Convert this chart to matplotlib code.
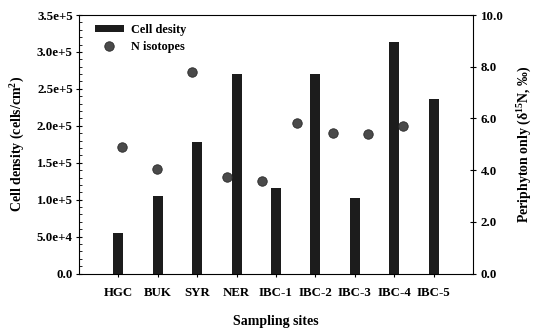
import matplotlib
matplotlib.use("Agg")
import matplotlib.pyplot as plt
from matplotlib.ticker import MultipleLocator
from matplotlib.lines import Line2D
from matplotlib.patches import Patch

plt.rcParams['font.family'] = ['Liberation Serif', 'DejaVu Serif']
plt.rcParams['font.weight'] = 'bold'
plt.rcParams['mathtext.fontset'] = 'custom'
plt.rcParams['mathtext.rm'] = 'Liberation Serif:bold'
plt.rcParams['mathtext.it'] = 'Liberation Serif:bold'
plt.rcParams['mathtext.bf'] = 'Liberation Serif:bold'

sites = ["HGC", "BUK", "SYR", "NER", "IBC-1", "IBC-2", "IBC-3", "IBC-4", "IBC-5"]
cell_density = [55000, 105000, 178000, 270000, 115500, 270000, 102000, 314000, 236500]
n_isotopes = [4.91, 4.04, 7.81, 3.72, 3.59, 5.82, 5.45, 5.39, 5.72]
left_ticks = [0, 5e4, 1e5, 1.5e5, 2e5, 2.5e5, 3e5, 3.5e5]
left_labels = ["0.0", "5.0e+4", "1.0e+5", "1.5e+5", "2.0e+5", "2.5e+5", "3.0e+5", "3.5e+5"]
right_ticks = [0, 2, 4, 6, 8, 10]
right_labels = ["0.0", "2.0", "4.0", "6.0", "8.0", "10.0"]

TF = 9.3
fig = plt.figure(figsize=(5.41, 3.32), dpi=100)
pos = [79/541, 1-273.6/332, (473-79)/541, (273.6-15)/332]
ax = fig.add_axes(pos)
xb = list(range(len(sites)))
ax.bar(xb, cell_density, width=0.25, color='#1c1c1c', zorder=2)
ax.set_xlim(-1, 9)
ax.set_ylim(0, 3.5e5)
ax.set_xticks(xb)
ax.set_xticklabels(sites, fontsize=TF, fontweight='bold')
ax.yaxis.set_minor_locator(MultipleLocator(1e4))
ax.set_yticks(left_ticks)
ax.set_yticklabels(left_labels, fontsize=TF, fontweight='bold')
ax.tick_params(axis='y', which='major', direction='inout', length=5, width=0.8, pad=2)
ax.tick_params(axis='y', which='minor', direction='in', length=2.5, width=0.6)
ax.tick_params(axis='x', which='major', direction='inout', length=5, width=0.8, pad=7)
ax.set_ylabel("Cell density (cells/cm$^\\mathbf{2}$)", fontsize=10, fontweight='bold', labelpad=7)
ax.set_xlabel("Sampling sites", fontsize=10, fontweight='bold', labelpad=12)
for s in ax.spines.values():
    s.set_linewidth(0.8)
ax.spines['right'].set_visible(False)

ax2 = fig.add_axes(pos, facecolor='none')
xp = list(range(1, len(sites)+1))
ax2.plot(xp, n_isotopes, 'o', color='#4a4a4a', markeredgecolor='#2a2a2a', markersize=6.8, markeredgewidth=0.6, zorder=3)
ax2.set_xlim(-0.21, 10.99)
ax2.set_ylim(0, 10)
ax2.set_xticks([])
ax2.yaxis.tick_right()
ax2.yaxis.set_label_position('right')
ax2.set_yticks(right_ticks)
ax2.set_yticklabels(right_labels, fontsize=TF, fontweight='bold')
ax2.tick_params(axis='y', direction='inout', length=5, width=0.8, pad=3)
ax2.set_ylabel("Periphyton only ($\\mathbf{\\delta^{15}}$N, \u2030)", fontsize=10, fontweight='bold', labelpad=9)
for k, s in ax2.spines.items():
    s.set_visible(k == 'right')
    s.set_linewidth(0.8)

handles = [Patch(facecolor='#1c1c1c', edgecolor='none'),
           Line2D([], [], marker='o', linestyle='none', color='#4a4a4a', markeredgecolor='#2a2a2a', markersize=6.8, markeredgewidth=0.6)]
leg = ax.legend(handles, ["Cell desity", "N isotopes"], loc='upper left', frameon=False,
                prop={'size': 8.8, 'weight': 'bold'}, handlelength=2.3, handleheight=0.55,
                bbox_to_anchor=(0.02, 1.0), borderaxespad=0.3, labelspacing=0.45, handletextpad=0.6)

fig.savefig("out.png", dpi=100)
